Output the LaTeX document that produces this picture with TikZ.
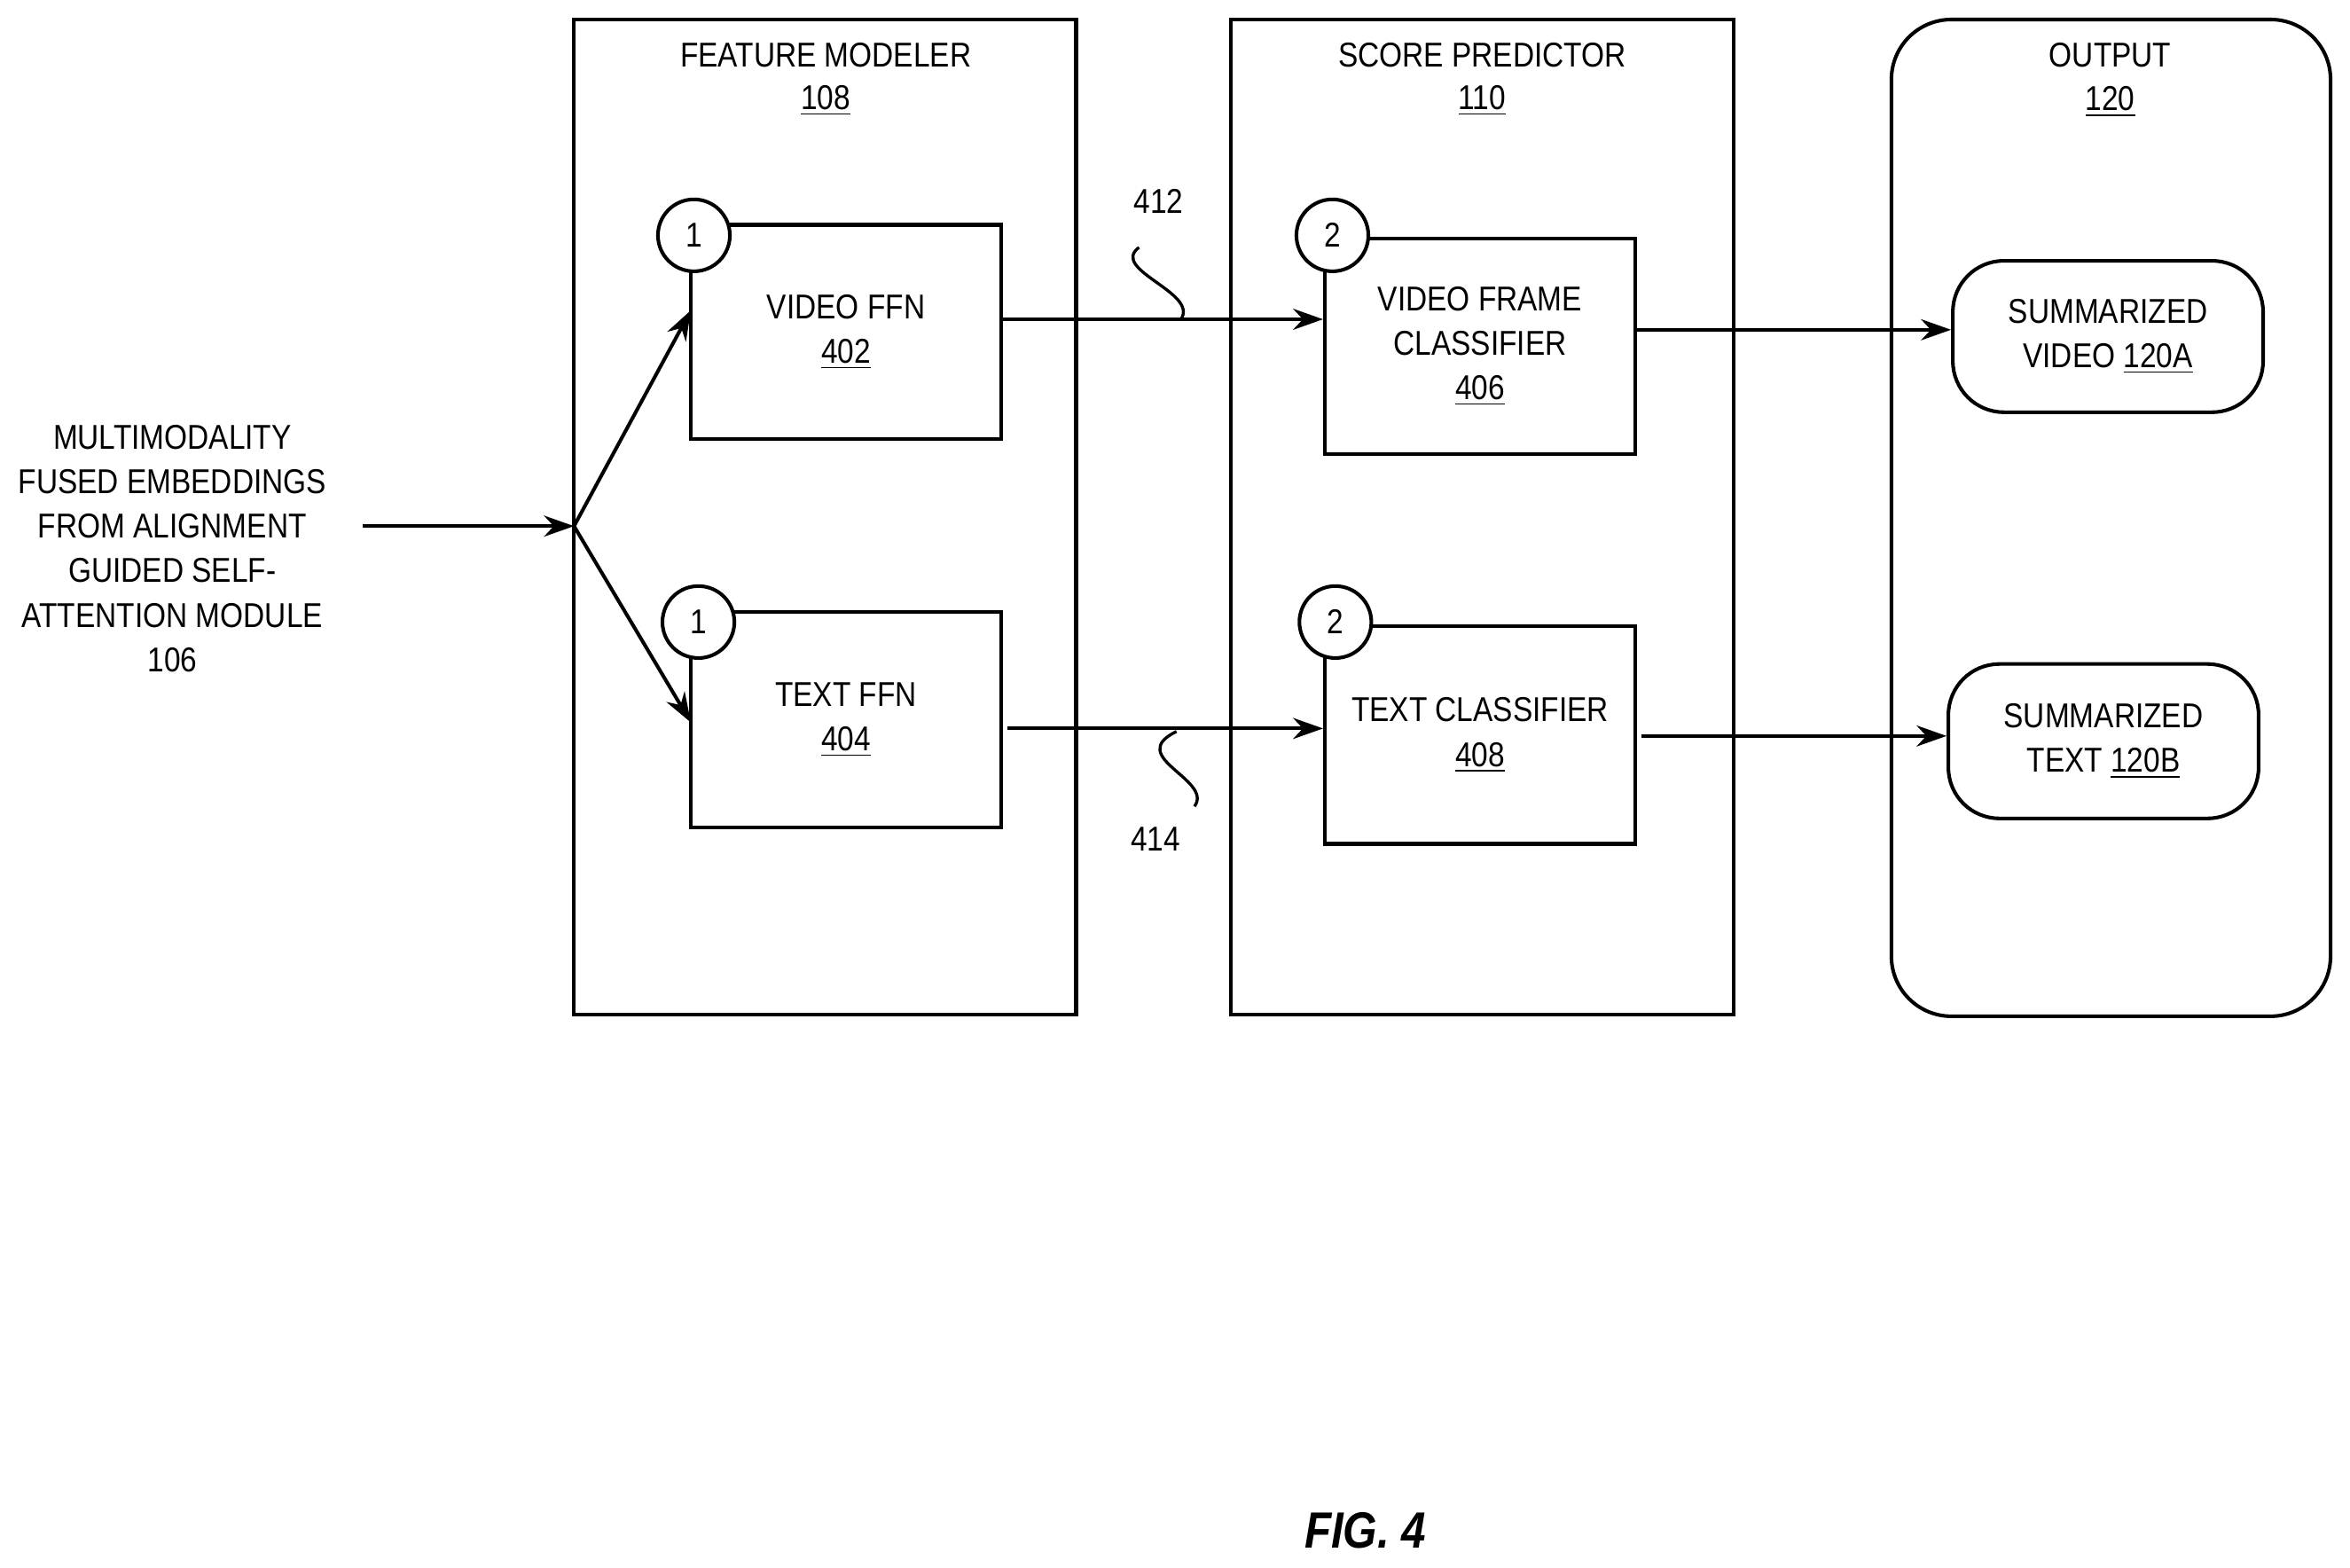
\documentclass[tikz,border=0pt]{standalone}
\usepackage{fontspec}
\setmainfont[FakeStretch=0.86]{Liberation Sans}
\usetikzlibrary{arrows.meta}
\begin{document}
\begin{tikzpicture}[x=0.5pt,y=-0.5pt,
 every node/.style={font=\fontsize{11.5}{14.8}\selectfont,align=center,inner sep=0},
 box/.style={draw,line width=1.2pt},
 arr/.style={-{Stealth[length=10pt,width=7pt]},line width=1.2pt},
 circ/.style={draw,circle,fill=white,line width=1.2pt,minimum size=24pt},
 sq/.style={line width=1pt}]
\useasboundingbox (0,0) rectangle (1568,1046);
\draw[box] (383,13) rectangle (718,677);
\draw[box] (821,13) rectangle (1157,677);
\draw[box,rounded corners=20pt] (1262,13) rectangle (1555,678);
\node at (551,37) {FEATURE MODELER};
\node at (551,67) {\underline{108}};
\node at (989,37) {SCORE PREDICTOR};
\node at (989,67) {\underline{110}};
\node at (1408,37) {OUTPUT};
\node at (1408,68) {\underline{120}};
\node[box,minimum width=103.5pt,minimum height=71.5pt] (vffn) at (564.5,221.5) {VIDEO FFN\\\underline{402}};
\node[box,minimum width=103.5pt,minimum height=72pt] (tffn) at (564.5,480) {TEXT FFN\\\underline{404}};
\node[box,minimum width=103.5pt,minimum height=72pt] (vfc) at (987.5,231) {VIDEO FRAME\\CLASSIFIER\\\underline{406}};
\node[box,minimum width=103.5pt,minimum height=72.5pt] (tc) at (987.5,490.5) {TEXT CLASSIFIER\\\underline{408}};
\node[circ] (c1) at (463,157) {1};
\node[circ] (c2) at (466,415) {1};
\node[circ] (c3) at (889,157) {2};
\node[circ] (c4) at (891,415) {2};
\node[box,rounded corners=17pt,minimum width=103.5pt,minimum height=50.5pt] (sv) at (1406.5,224.5) {SUMMARIZED\\VIDEO \underline{120A}};
\node[box,rounded corners=17pt,minimum width=103.5pt,minimum height=51.5pt] (st) at (1403.5,494.5) {SUMMARIZED\\TEXT \underline{120B}};
\node (in) at (115,366) {MULTIMODALITY\\FUSED EMBEDDINGS\\FROM ALIGNMENT\\GUIDED SELF-\\ATTENTION MODULE\\106};
\coordinate (split) at (383,351);
\coordinate (inR) at (242,351);
\draw[arr] (inR) -- (split);
\draw[arr] (split) -- (461,207);
\draw[arr] (split) -- (461,482);
\draw[arr] (668,213) -- (vfc.west|-0,213);
\draw[arr] (672,486) -- (tc.west|-0,486);
\draw[arr] (1091,220) -- (sv.west|-0,220);
\draw[arr] (1095,491) -- (st.west|-0,491);
\node at (773,134) {412};
\node at (771,560) {414};
\draw[sq] (760,165) .. controls (740,180) and (800,195) .. (788,213);
\draw[sq] (785,488) .. controls (750,505) and (810,520) .. (797,538);
\node[font=\fontsize{17}{20}\selectfont\bfseries\itshape] at (911,1021) {FIG. 4};
\end{tikzpicture}
\end{document}
